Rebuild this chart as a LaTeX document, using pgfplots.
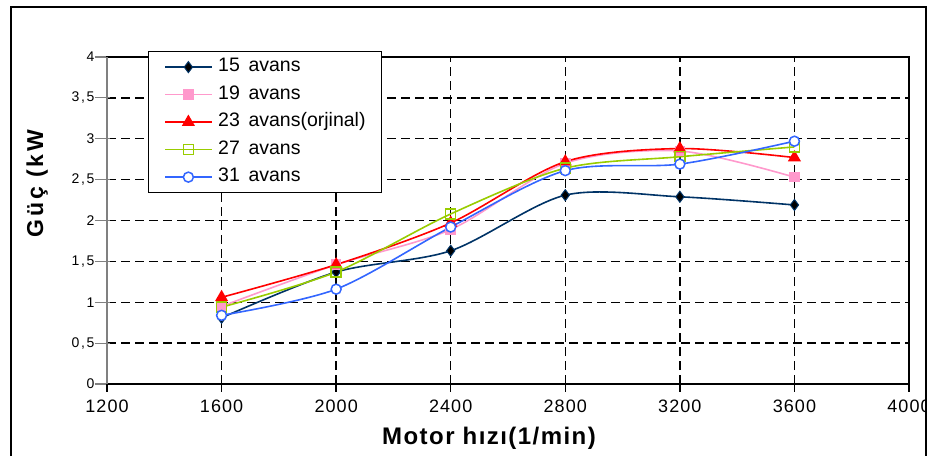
\documentclass[border=0pt]{standalone}
\usepackage{pgfplots}
\pgfplotsset{compat=1.18}
\usepackage{fontspec}
\setmainfont{Liberation Sans}
\newfontfamily\legfont[WordSpace=1.6]{Liberation Sans}
\definecolor{c15}{RGB}{0,51,102}
\definecolor{c19}{RGB}{255,153,204}
\definecolor{c23}{RGB}{255,0,0}
\definecolor{c27}{RGB}{153,204,0}
\definecolor{c31}{RGB}{51,102,255}
\pgfplotstableread{
x y15 y19 y23 y27 y31
1600 0.81 0.95 1.06 0.94 0.84
2000 1.37 1.46 1.46 1.37 1.16
2400 1.63 1.89 1.97 2.08 1.92
2800 2.31 2.70 2.72 2.64 2.61
3200 2.29 2.85 2.88 2.78 2.69
3600 2.19 2.53 2.77 2.90 2.97
}\data
\begin{document}
\begin{tikzpicture}[x=1pt,y=1pt]
\useasboundingbox (0,0) rectangle (930,456);
\begin{axis}[
  at={(107pt,72pt)}, anchor=south west, scale only axis,
  width=802pt, height=327pt, clip=false,
  xmin=1200, xmax=4000, ymin=0, ymax=4,
  xtick={1200,1600,2000,2400,2800,3200,3600,4000},
  ytick={0,0.5,1,1.5,2,2.5,3,3.5,4},
  grid=major,
  major grid style={black, dash pattern=on 9pt off 5pt, line width=1.4pt},
  axis line style={black, line width=1.5pt},
  tick align=center, major tick length=15pt,
  xtick pos=left, ytick pos=left,
  y tick style={gray, line width=1.2pt, xshift=-4.5pt},
  x tick style={black, line width=1.3pt},
  /pgf/number format/assume math mode=true,
  x tick label style={font=\fontsize{18}{20}\selectfont\addfontfeature{LetterSpace=6}, /pgf/number format/1000 sep={}, yshift=-4.5pt},
  y tick label style={font=\fontsize{14}{16}\selectfont\addfontfeature{LetterSpace=12}, /pgf/number format/use comma, xshift=-1.5pt},
  legend style={at={(axis description cs:0.0511,1.0183)}, anchor=north west,
    draw=black, line width=1.2pt, fill=white,
    inner xsep=16pt, inner ysep=7pt,
    font=\legfont\fontsize{19.5}{22}\selectfont,
    nodes={inner sep=0pt, text height=13pt, text depth=4pt, anchor=base west},
    row sep=10.5pt,
    /tikz/every odd column/.append style={column sep=6pt}},
  legend cell align=left,
  legend image code/.code={\draw[mark repeat=2, mark phase=2] plot coordinates {(0pt,4.5pt) (23pt,4.5pt) (46pt,4.5pt)};},
  every axis plot/.append style={line width=1.6pt, smooth},
]
\coordinate (ta) at (axis cs:1200,0);
\coordinate (tl) at (axis cs:1200,4);
\addplot[c15, mark=diamond*, mark size=5.5pt, mark options={fill=black, draw=c15, line width=1pt}] table[x=x, y=y15] {\data};
\addlegendentry{15 avans}
\addplot[c19, mark=square*, mark size=4.5pt, mark options={fill=c19, draw=c19}] table[x=x, y=y19] {\data};
\addlegendentry{19 avans}
\addplot[c23, mark=triangle*, mark size=6pt, mark options={fill=c23, draw=c23}] table[x=x, y=y23] {\data};
\addlegendentry{23 avans(orjinal)}
\addplot[c27, mark=square, mark size=5pt, mark options={fill=white, draw=c27, line width=1.5pt}] table[x=x, y=y27] {\data};
\addlegendentry{27 avans}
\addplot[c31, mark=*, mark size=5pt, mark options={fill=white, draw=c31, line width=1.5pt}] table[x=x, y=y31] {\data};
\addlegendentry{31 avans}
\end{axis}
\draw[gray, line width=1.5pt] (ta) -- (tl);
\node[anchor=base, font=\bfseries\fontsize{24}{27}\selectfont\addfontfeature{LetterSpace=6}] at (489,12) {Motor hızı(1/min)};
\node[anchor=base, rotate=90, font=\bfseries\fontsize{23}{26}\selectfont\addfontfeature{LetterSpace=12}] at (43,272.5) {Güç (kW};
\fill[white] (926,0) rectangle (931,456);
\draw[black, line width=1.3pt] (11,0) -- (11,449) -- (926,449) -- (926,0);
\end{tikzpicture}
\end{document}
